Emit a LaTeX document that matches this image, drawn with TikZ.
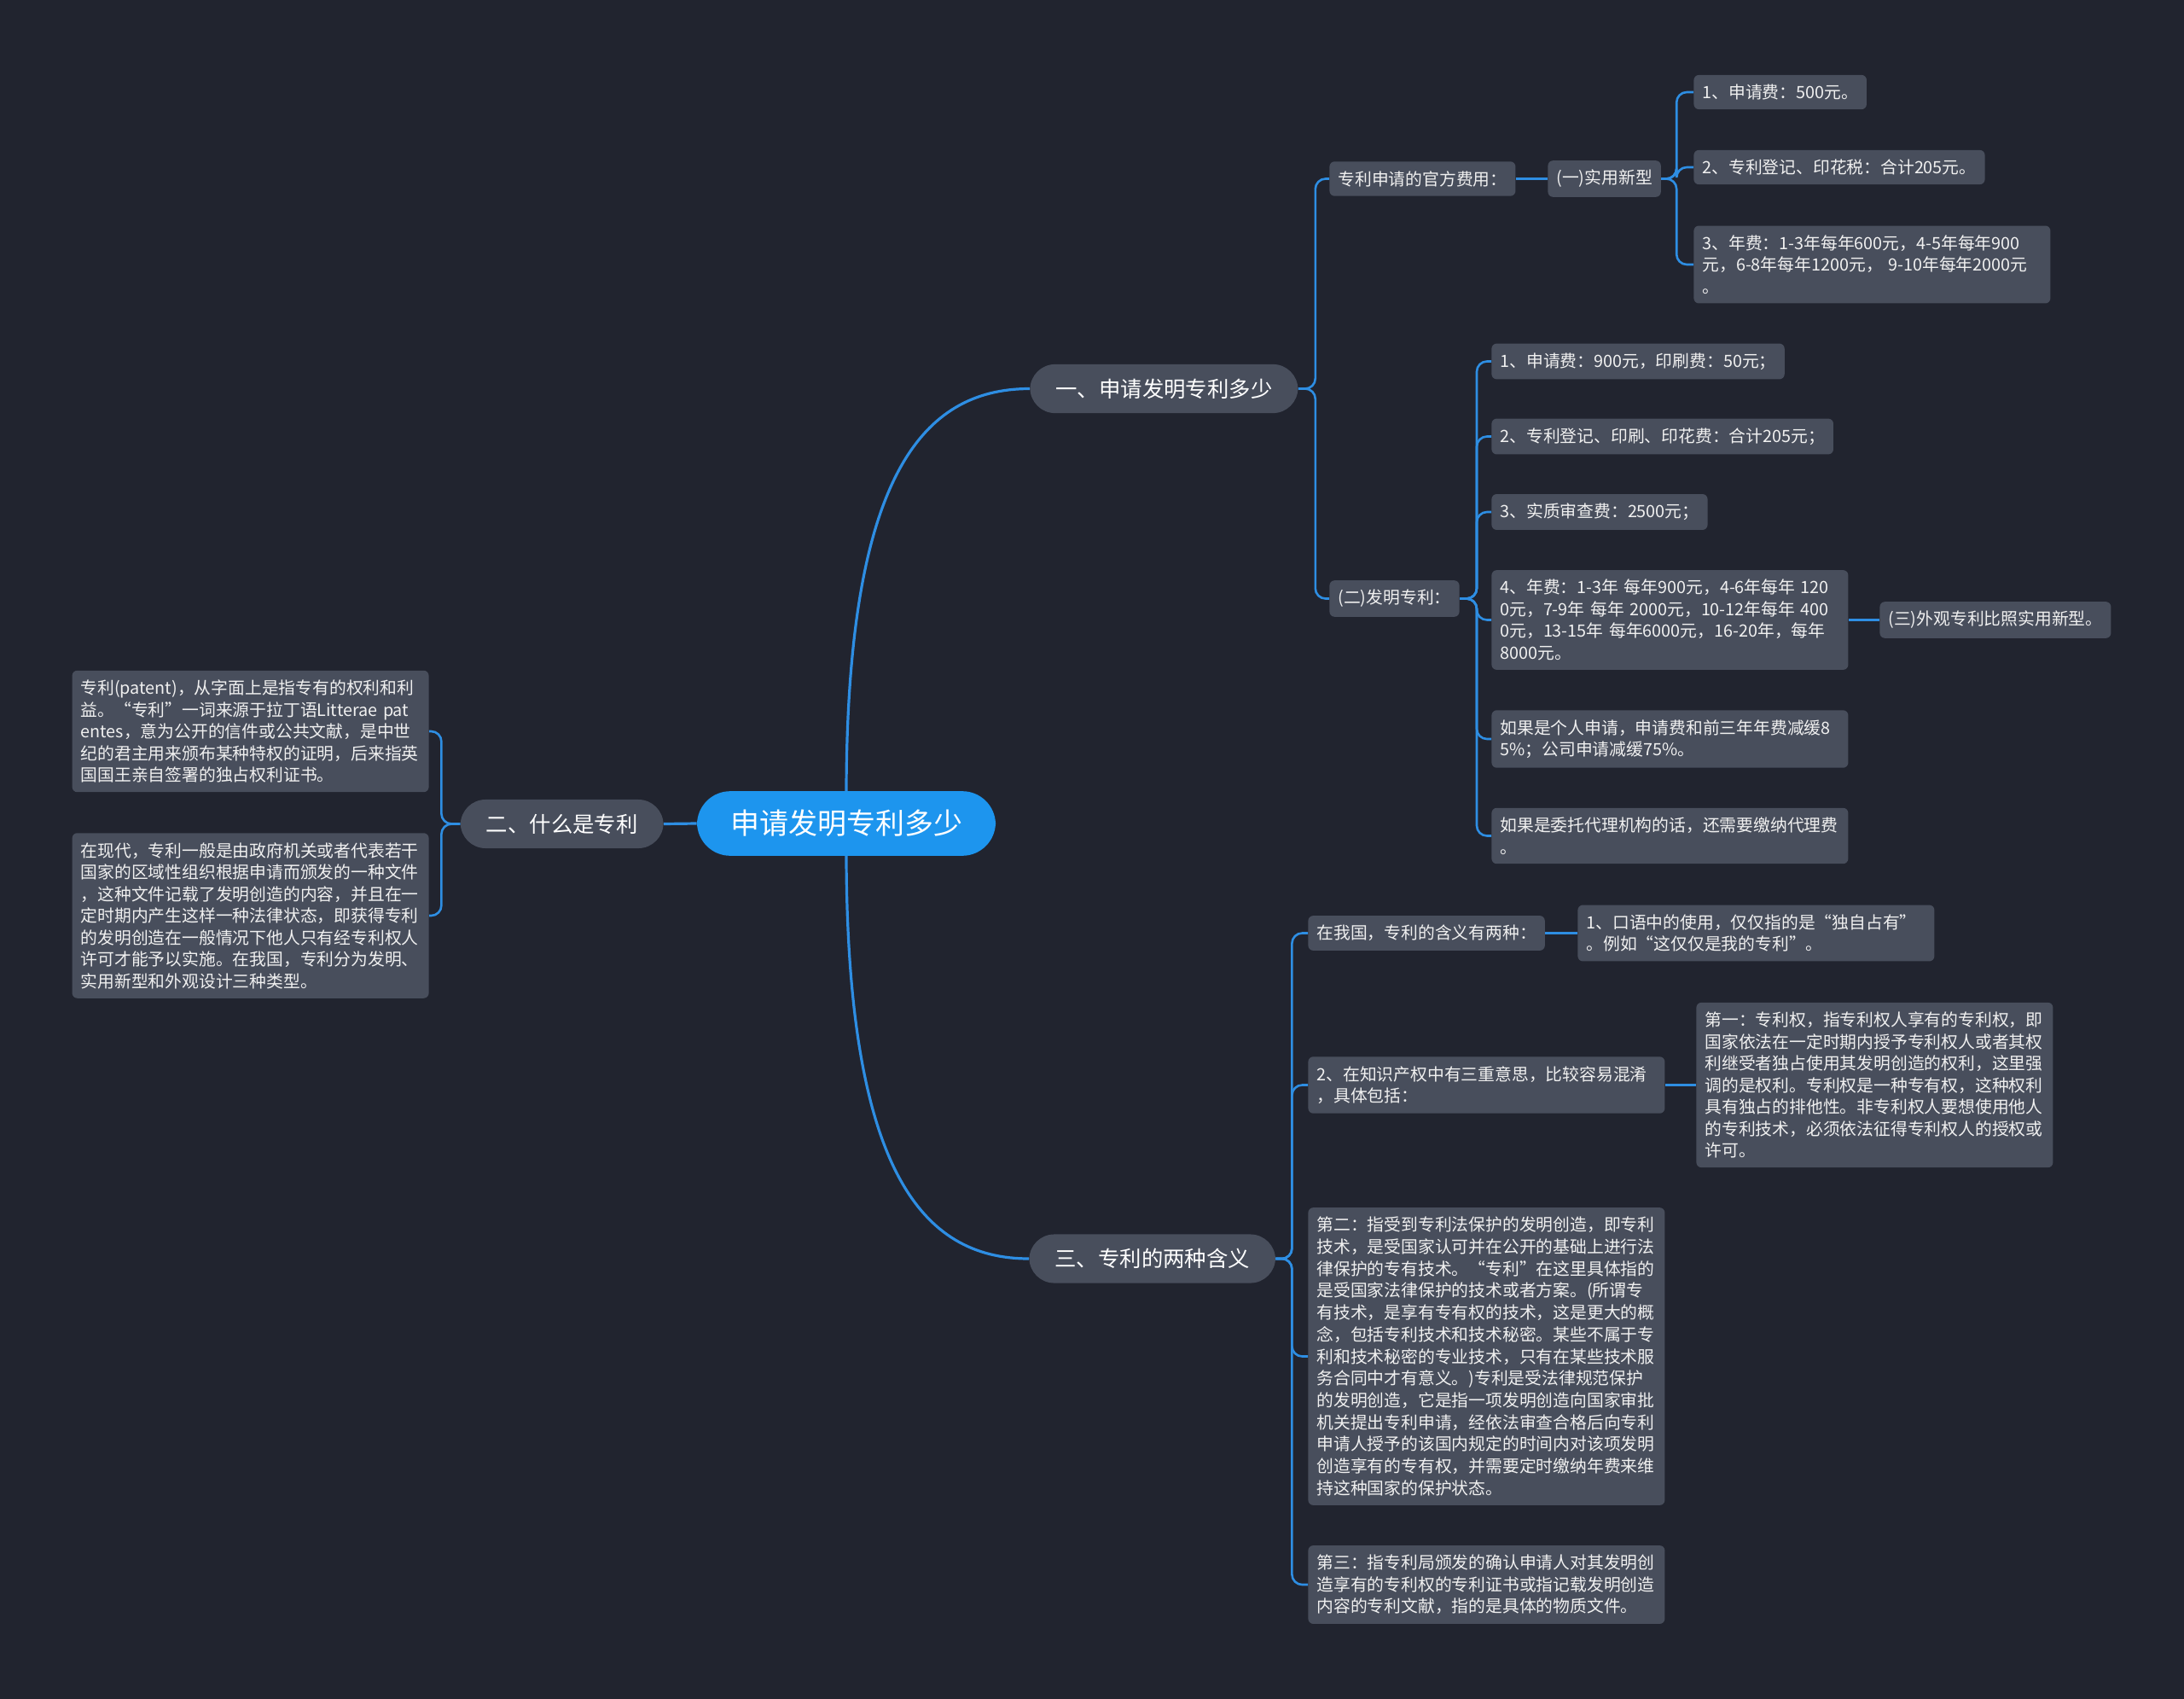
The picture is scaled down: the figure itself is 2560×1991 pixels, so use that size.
\documentclass[tikz,border=0pt]{standalone}
\usepackage{fontspec}
\setmainfont{Noto Sans CJK SC}
\definecolor{bg}{HTML}{21242F}
\definecolor{nodefill}{HTML}{484E5C}
\definecolor{rootfill}{HTML}{1D95EE}
\definecolor{linec}{HTML}{2E8EE3}
\definecolor{txt}{HTML}{F0F0F0}
\begin{document}
\begin{tikzpicture}[x=0.5pt,y=-0.5pt,
  leaf/.style={fill=nodefill, text=txt, rounded corners=3pt, inner xsep=5pt, inner ysep=5.5pt, font=\fontsize{9.9pt}{12.75pt}\selectfont, align=left},
  para/.style={leaf, text width=199pt},
  topic/.style={fill=nodefill, text=white, rounded corners=14.7pt, inner xsep=15pt, inner ysep=8.4pt, font=\fontsize{12.7pt}{15pt}\selectfont},
  rootnode/.style={fill=rootfill, text=white, rounded corners=19.5pt, inner xsep=19.5pt, inner ysep=11pt, font=\fontsize{17pt}{20pt}\selectfont},
  link/.style={draw=linec, line width=1.3pt, rounded corners=6pt},
  mainlink/.style={draw=linec, line width=1.6pt}
]
\useasboundingbox (0,0) rectangle (2560,1991);
\fill[bg] (0,0) rectangle (2560,1991);

% root and topics
\node[rootnode] (r) at (992,965) {申请发明专利多少};
\node[topic, anchor=west] (n1) at (1207,455.5) {一、申请发明专利多少};
\node[topic, anchor=east] (n2) at (778,965.5) {二、什么是专利};
\node[topic, anchor=west] (n3) at (1206,1475) {三、专利的两种含义};

% branch one
\node[leaf, anchor=west] (f) at (1558,209.5) {专利申请的官方费用：};
\node[leaf, anchor=west] (u) at (1814,209.5) {(一)实用新型};
\node[leaf, anchor=west] (u1) at (1985,108) {1、申请费：500元。};
\node[leaf, anchor=west] (u2) at (1985,196) {2、专利登记、印花税：合计205元。};
\node[para, anchor=west] (u3) at (1985,310) {3、年费：1-3年每年600元，4-5年每年900\\元，6-8年每年1200元， 9-10年每年2000元\\。};
\node[leaf, anchor=west] (g) at (1558,701.5) {(二)发明专利：};
\node[leaf, anchor=west] (g1) at (1748,423.5) {1、申请费：900元，印刷费：50元；};
\node[leaf, anchor=west] (g2) at (1748,511.5) {2、专利登记、印刷、印花费：合计205元；};
\node[leaf, anchor=west] (g3) at (1748,600) {3、实质审查费：2500元；};
\node[para, anchor=west] (g4) at (1748,726.5) {4、年费：1-3年 每年900元，4-6年每年 120\\0元，7-9年 每年 2000元，10-12年每年 400\\0元，13-15年 每年6000元，16-20年，每年\\8000元。};
\node[leaf, anchor=west] (g4a) at (2203,726.5) {(三)外观专利比照实用新型。};
\node[para, anchor=west] (g5) at (1748,866) {如果是个人申请，申请费和前三年年费减缓8\\5\%；公司申请减缓75\%。};
\node[para, anchor=west] (g6) at (1748,979.5) {如果是委托代理机构的话，还需要缴纳代理费\\。};

% branch two
\node[para, anchor=east] (p1) at (503,857) {专利(patent)，从字面上是指专有的权利和利\\益。“专利”一词来源于拉丁语Litterae pat\\entes，意为公开的信件或公共文献，是中世\\纪的君主用来颁布某种特权的证明，后来指英\\国国王亲自签署的独占权利证书。};
\node[para, anchor=east] (p2) at (503,1073) {在现代，专利一般是由政府机关或者代表若干\\国家的区域性组织根据申请而颁发的一种文件\\，这种文件记载了发明创造的内容，并且在一\\定时期内产生这样一种法律状态，即获得专利\\的发明创造在一般情况下他人只有经专利权人\\许可才能予以实施。在我国，专利分为发明、\\实用新型和外观设计三种类型。};

% branch three
\node[leaf, anchor=west] (m1) at (1533,1093.5) {在我国，专利的含义有两种：};
\node[para, anchor=west] (m1a) at (1849,1093.5) {1、口语中的使用，仅仅指的是“独自占有”\\。例如“这仅仅是我的专利”。};
\node[para, anchor=west] (m2) at (1533,1271.5) {2、在知识产权中有三重意思，比较容易混淆\\，具体包括：};
\node[para, anchor=west] (m2a) at (1988,1271.5) {第一：专利权，指专利权人享有的专利权，即\\国家依法在一定时期内授予专利权人或者其权\\利继受者独占使用其发明创造的权利，这里强\\调的是权利。专利权是一种专有权，这种权利\\具有独占的排他性。非专利权人要想使用他人\\的专利技术，必须依法征得专利权人的授权或\\许可。};
\node[para, anchor=west, font=\fontsize{9.9pt}{12.85pt}\selectfont] (m3) at (1533,1589.5) {第二：指受到专利法保护的发明创造，即专利\\技术，是受国家认可并在公开的基础上进行法\\律保护的专有技术。“专利”在这里具体指的\\是受国家法律保护的技术或者方案。(所谓专\\有技术，是享有专有权的技术，这是更大的概\\念，包括专利技术和技术秘密。某些不属于专\\利和技术秘密的专业技术，只有在某些技术服\\务合同中才有意义。)专利是受法律规范保护\\的发明创造，它是指一项发明创造向国家审批\\机关提出专利申请，经依法审查合格后向专利\\申请人授予的该国内规定的时间内对该项发明\\创造享有的专有权，并需要定时缴纳年费来维\\持这种国家的保护状态。};
\node[para, anchor=west] (m4) at (1533,1857) {第三：指专利局颁发的确认申请人对其发明创\\造享有的专利权的专利证书或指记载发明创造\\内容的专利文献，指的是具体的物质文件。};

% connectors from root
\draw[mainlink] (r.north) .. controls (993,560) and (1080,455.5) .. (n1.west);
\draw[mainlink] (r.south) .. controls (993,1370) and (1080,1475) .. (n3.west);
\draw[mainlink] (r.west) -- (n2.east);

% branch one connectors
\draw[link] (n1.east) -- ++(20,0) |- (f.west);
\draw[link] (n1.east) -- ++(20,0) |- (g.west);
\draw[link] (f.east) -- (u.west);
\draw[link] (u.east) -- ++(18,0) |- (u1.west);
\draw[link] (u.east) -- ++(18,0) |- (u2.west);
\draw[link] (u.east) -- ++(18,0) |- (u3.west);
\draw[link] (g.east) -- ++(20,0) |- (g1.west);
\draw[link] (g.east) -- ++(20,0) |- (g2.west);
\draw[link] (g.east) -- ++(20,0) |- (g3.west);
\draw[link] (g.east) -- ++(20,0) |- (g4.west);
\draw[link] (g.east) -- ++(20,0) |- (g5.west);
\draw[link] (g.east) -- ++(20,0) |- (g6.west);
\draw[link] (g4.east) -- (g4a.west);

% branch two connectors
\draw[link] (n2.west) -- ++(-22,0) |- (p1.east);
\draw[link] (n2.west) -- ++(-22,0) |- (p2.east);

% branch three connectors
\draw[link] (n3.east) -- ++(19,0) |- (m1.west);
\draw[link] (n3.east) -- ++(19,0) |- (m2.west);
\draw[link] (n3.east) -- ++(19,0) |- (m3.west);
\draw[link] (n3.east) -- ++(19,0) |- (m4.west);
\draw[link] (m1.east) -- (m1a.west);
\draw[link] (m2.east) -- (m2a.west);
\end{tikzpicture}
\end{document}
